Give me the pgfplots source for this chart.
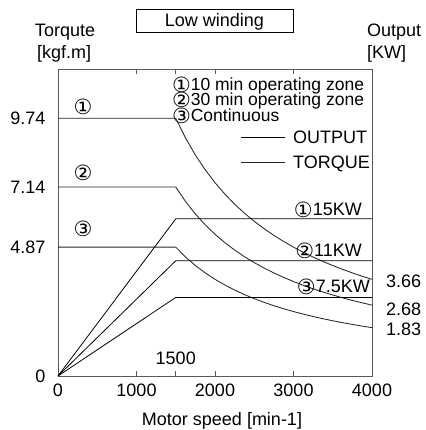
\documentclass[border=0pt]{standalone}
\usepackage{fontspec}
\setmainfont{Liberation Sans}
\newfontfamily\dv{DejaVu Sans}
\usepackage{pgfplots}
\pgfplotsset{compat=1.18}
% circled digit inside a line of text (does not change the line's height)
\newcommand{\cn}[1]{\smash{\raisebox{-2pt}{\dv\fontsize{21}{21}\selectfont #1}}}
% circled digit standing alone
\newcommand{\cnb}[1]{{\dv\fontsize{21}{21}\selectfont #1}}
\colorlet{torq}{black!85}
\colorlet{frame}{gray!70!black}

\begin{document}
\begin{tikzpicture}[x=1pt,y=1pt,font=\fontsize{18}{21}\selectfont]
\path[use as bounding box] (0,0) rectangle (425,430);

% torque axis
\begin{axis}[
  at={(58pt,54pt)}, anchor=south west,
  scale only axis, width=314pt, height=307pt,
  xmin=0, xmax=4000, ymin=0, ymax=11.6,
  axis line style={draw=frame, line width=0.9pt},
  xtick={0,1000,1500,2000,3000,4000},
  xticklabels={0,1000,,2000,3000,4000},
  ytick={0,4.87,7.14,9.74},
  yticklabels={0,4.87,7.14,9.74},
  tick align=inside, major tick length=5pt,
  ytick style={draw=none},
  xtick style={draw=frame, line width=0.8pt},
  yticklabel style={xshift=-9pt},
  xticklabel style={yshift=-4pt},
  /pgf/number format/assume math mode=true,
  scaled x ticks=false,
  clip=false,
  legend style={draw=none, fill=none, at={(rel axis cs:0.58,0.806)},
    anchor=north west, row sep=7pt, inner sep=0pt},
  legend cell align=left,
  legend image code/.code={\draw[#1] (0pt,0pt) -- (44pt,0pt); \path (50pt,0pt);},
]
\addlegendimage{black, line width=0.8pt}
\addlegendentry{OUTPUT}
\addplot[torq, line width=0.85pt] coordinates {
  (0,9.74) (1500,9.74) (1625,8.991) (1750,8.349) (1875,7.792) (2000,7.305)
  (2125,6.875) (2250,6.493) (2375,6.152) (2500,5.844) (2625,5.566)
  (2750,5.313) (2875,5.082) (3000,4.870) (3125,4.675) (3250,4.495)
  (3375,4.329) (3500,4.174) (3625,4.030) (3750,3.896) (3875,3.770) (4000,3.653)};
\addlegendentry{TORQUE}
\addplot[torq, line width=0.85pt, forget plot] coordinates {
  (0,7.14) (1500,7.14) (1625,6.591) (1750,6.120) (1875,5.712) (2000,5.355)
  (2125,5.040) (2250,4.760) (2375,4.509) (2500,4.284) (2625,4.080)
  (2750,3.895) (2875,3.725) (3000,3.570) (3125,3.427) (3250,3.295)
  (3375,3.173) (3500,3.060) (3625,2.954) (3750,2.856) (3875,2.764) (4000,2.678)};
\addplot[torq, line width=0.85pt, forget plot] coordinates {
  (0,4.87) (1500,4.87) (1625,4.495) (1750,4.174) (1875,3.896) (2000,3.653)
  (2125,3.438) (2250,3.247) (2375,3.076) (2500,2.922) (2625,2.783)
  (2750,2.656) (2875,2.541) (3000,2.435) (3125,2.338) (3250,2.248)
  (3375,2.164) (3500,2.087) (3625,2.015) (3750,1.948) (3875,1.885) (4000,1.826)};

\node at (axis cs:318,10.16) {\cnb{①}};
\node at (axis cs:318,7.67) {\cnb{②}};
\node at (axis cs:318,5.55) {\cnb{③}};
\begin{scope}[font=\fontsize{17.5}{18}\selectfont]
\node[anchor=base west, inner sep=0pt] at (axis cs:1450,10.78) {\cn{①}10 min operating zone};
\node[anchor=base west, inner sep=0pt] at (axis cs:1450,10.21) {\cn{②}30 min operating zone};
\node[anchor=base west, inner sep=0pt] at (axis cs:1450,9.61) {\cn{③}Continuous};
\end{scope}
\node[anchor=west, inner sep=0pt] at (axis cs:4000,3.59) [xshift=14pt] {3.66};
\node[anchor=west, inner sep=0pt] at (axis cs:4000,2.53) [xshift=14pt] {2.68};
\node[anchor=west, inner sep=0pt] at (axis cs:4000,1.78) [xshift=14pt] {1.83};
\node at (axis cs:1500,0.68) {1500};
\end{axis}

% output axis
\begin{axis}[
  at={(58pt,54pt)}, anchor=south west,
  scale only axis, width=314pt, height=307pt,
  xmin=0, xmax=4000, ymin=0, ymax=29.3,
  hide axis, clip=false,
]
\addplot[black, line width=0.8pt] coordinates {(0,0) (1500,15) (4000,15)};
\addplot[black, line width=0.8pt] coordinates {(0,0) (1500,11) (4000,11)};
\addplot[black, line width=0.8pt] coordinates {(0,0) (1500,7.5) (4000,7.5)};
\node[anchor=base east, inner sep=0pt] at (axis cs:3873,15.3) {\cn{①}15KW};
\node[anchor=base east, inner sep=0pt] at (axis cs:3873,11.4) {\cn{②}11KW};
\node[anchor=base east, inner sep=0pt] at (axis cs:3975,8.0) {\cn{③}7.5KW};
\end{axis}

\node at (65,398) {Torqute};
\node[anchor=west, inner sep=0pt] at (37,376) {[kgf.m]};
\node[anchor=west, inner sep=0pt] at (367,398) {Output};
\node[anchor=west, inner sep=0pt] at (367,376) {[KW]};
\draw[line width=0.7pt] (136,398) rectangle (293,421);
\node at (214.5,408) {Low winding};
\node at (222,9) {Motor speed [min-1]};
\end{tikzpicture}
\end{document}
